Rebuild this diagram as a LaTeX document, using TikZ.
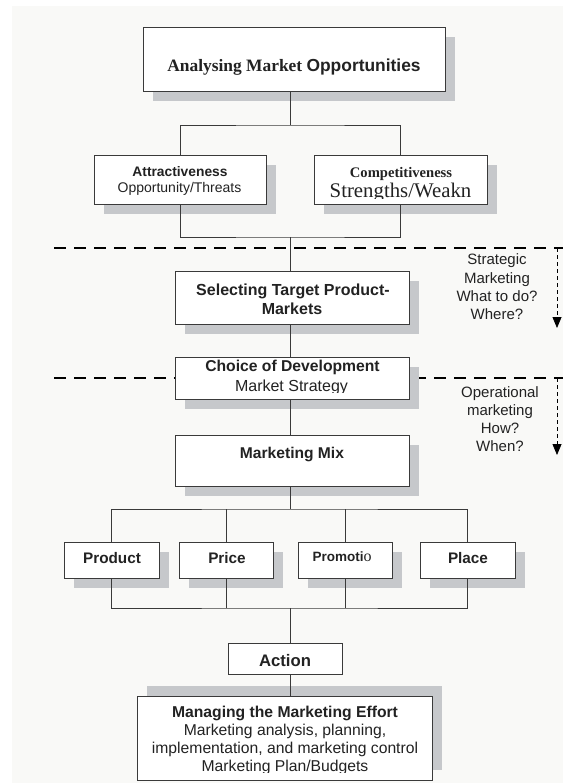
\documentclass[tikz,border=0pt]{standalone}
\usepackage{fontspec}
\setmainfont{Liberation Serif}
\setsansfont{Liberation Sans}
\usetikzlibrary{arrows.meta,shadows}

\definecolor{bgpaper}{HTML}{F9F9F7}
\definecolor{inkline}{HTML}{3A3A3A}
\definecolor{inktext}{HTML}{222222}
\definecolor{shadowgray}{HTML}{C6C8CB}
\newcommand{\fsz}[1]{\fontsize{#1bp}{#1bp}\selectfont}

\tikzset{
  box/.style={draw=inkline, fill=white, line width=0.9bp, inner sep=0pt},
  shadowdown/.style={drop shadow={shadow xshift=10bp, shadow yshift=-10bp, fill=shadowgray, opacity=1}},
  shadowup/.style={drop shadow={shadow xshift=10bp, shadow yshift=10bp, fill=shadowgray, opacity=1}},
  lbl/.style={inner sep=0pt, anchor=base, text=inktext, font=\sffamily\fsz{15.5}},
  conn/.style={draw=inkline, line width=1bp},
  divider/.style={draw=black, line width=2.4bp, dash pattern=on 12bp off 8bp},
  sidearrow/.style={draw=black, line width=0.8bp, dash pattern=on 4bp off 3bp,
    -{Triangle[width=9bp,length=11bp]}},
}

\begin{document}
\begin{tikzpicture}[x=1bp,y=-1bp]
\useasboundingbox (0,0) rectangle (563,783);
\fill[bgpaper] (12,6) rectangle (563,783);

% horizontal phase dividers
\draw[divider] (54,248) -- (563,248);
\draw[divider] (54,378) -- (563,378);

% side arrows for the two phases
\coordinate (sa) at (557,248);
\coordinate (sb) at (557,328);
\coordinate (oa) at (557,378);
\coordinate (ob) at (557,455);
\draw[sidearrow] (sa) -- (sb);
\draw[sidearrow] (oa) -- (ob);

% boxes
\node[box, shadowdown, minimum width=302bp, minimum height=64bp] (top) at (294,59) {};
\node[box, shadowdown, minimum width=172bp, minimum height=49bp] (attr) at (180,179.5) {};
\node[box, shadowdown, minimum width=173bp, minimum height=49bp] (comp) at (400.5,179.5) {};
\node[box, shadowdown, minimum width=234bp, minimum height=53bp] (sel) at (292,297.5) {};
\node[box, shadowdown, minimum width=234bp, minimum height=42bp] (choice) at (292,378) {};
\node[box, shadowdown, minimum width=234bp, minimum height=51bp] (mix) at (292,460.5) {};
\node[box, shadowdown, minimum width=95bp, minimum height=36bp] (product) at (111.5,560) {};
\node[box, shadowdown, minimum width=94bp, minimum height=36bp] (price) at (226,560) {};
\node[box, shadowdown, minimum width=94bp, minimum height=36bp] (promo) at (345,560) {};
\node[box, shadowdown, minimum width=95bp, minimum height=36bp] (place) at (467.5,560) {};
\node[box, minimum width=114bp, minimum height=31bp] (action) at (285,658.5) {};
\node[box, shadowup, minimum width=295bp, minimum height=84bp] (manage) at (284.5,738) {};

% box texts
\node[lbl, font=\rmfamily\bfseries\fsz{17.4}] (toptxt) at (294,71.5) {Analysing Market {\sffamily Opportunities}};

\node[lbl, font=\sffamily\bfseries\fsz{13.8}] (attrA) at (180,176) {Attractiveness};
\node[lbl, font=\sffamily\fsz{14}] (attrB) at (179.5,192) {Opportunity/Threats};

\node[lbl, font=\rmfamily\bfseries\fsz{14.6}] (compA) at (401,177) {Competitiveness};
\begin{scope}
  \clip (comp.north west) rectangle ([yshift=6bp]comp.south east);
  \node[lbl, font=\rmfamily\fsz{20.8}] (compB) at (400.5,197) {Strengths/Weakn};
\end{scope}

\node[lbl, font=\sffamily\bfseries\fsz{16}] (selA) at (293,295) {Selecting Target Product-};
\node[lbl, font=\sffamily\bfseries\fsz{16}] (selB) at (292,314) {Markets};

\node[lbl, font=\sffamily\bfseries\fsz{15.7}] (choiceA) at (292.5,371) {Choice of Development};
\begin{scope}
  \clip (choice.north west) rectangle ([yshift=7bp]choice.south east);
  \node[lbl, font=\sffamily\fsz{16}] (choiceB) at (291.5,391) {Market Strategy};
\end{scope}

\node[lbl, font=\sffamily\bfseries\fsz{15.6}] (mixA) at (292,458) {Marketing Mix};

\node[lbl, font=\sffamily\bfseries\fsz{15.3}] (productA) at (112,563) {Product};
\node[lbl, font=\sffamily\bfseries\fsz{15.3}] (priceA) at (227,563) {Price};
\node[lbl, font=\sffamily\bfseries\fsz{13.5}] (promoA) at (342,561.5) {Promoti{\rmfamily\mdseries\fsz{16}o}};
\node[lbl, font=\sffamily\bfseries\fsz{15.3}] (placeA) at (468,563) {Place};

\node[lbl, font=\sffamily\bfseries\fsz{16.7}] (actionA) at (285,666.5) {Action};

\node[lbl, font=\sffamily\bfseries\fsz{15.7}] (manA) at (285,717) {Managing the Marketing Effort};
\node[lbl, font=\sffamily\fsz{15.7}] (manB) at (285,735.5) {Marketing analysis, planning,};
\node[lbl, font=\sffamily\fsz{15.7}] (manC) at (285,753.5) {implementation, and marketing control};
\begin{scope}
  \clip (manage.north west) rectangle ([yshift=8bp]manage.south east);
  \node[lbl, font=\sffamily\fsz{15.7}] (manD) at (285,771) {Marketing Plan/Budgets};
\end{scope}

% phase notes on the right
\node[lbl, font=\sffamily\fsz{15}] (stA) at (497,264) {Strategic};
\node[lbl, font=\sffamily\fsz{15}] (stB) at (497,283) {Marketing};
\node[lbl, font=\sffamily\fsz{15}] (stC) at (497,301.5) {What to do?};
\node[lbl, font=\sffamily\fsz{15}] (stD) at (497,319.5) {Where?};
\node[lbl, font=\sffamily\fsz{15}] (opA) at (500,397.5) {Operational};
\node[lbl, font=\sffamily\fsz{15}] (opB) at (500,415) {marketing};
\node[lbl, font=\sffamily\fsz{15}] (opC) at (500,433.5) {How?};
\node[lbl, font=\sffamily\fsz{15}] (opD) at (500,451) {When?};

% connectors
\coordinate (j1) at (290,125);
\coordinate (j2) at (290,237);
\coordinate (j3) at (290,509);
\coordinate (j4) at (290,608);
\draw[conn] (top.south -| j1) -- (j1);
\draw[conn] (attr.north) |- (j1) -| (comp.north);
\draw[conn] (attr.south) |- (j2) -| (comp.south);
\draw[conn] (j2) -- (sel.north -| j2);
\draw[conn] (sel.south -| j2) -- (choice.north -| j2);
\draw[conn] (choice.south -| j2) -- (mix.north -| j2);
\draw[conn] (mix.south -| j3) -- (j3);
\draw[conn] (product.north) |- (j3) -| (place.north);
\draw[conn] (price.north) -- (price.north |- j3);
\draw[conn] (promo.north) -- (promo.north |- j3);
\draw[conn] (product.south) |- (j4) -| (place.south);
\draw[conn] (price.south) -- (price.south |- j4);
\draw[conn] (promo.south) -- (promo.south |- j4);
\draw[conn] (j4) -- (action.north -| j4);
\draw[conn] (action.south -| j4) -- (manage.north -| j4);
\end{tikzpicture}
\end{document}
